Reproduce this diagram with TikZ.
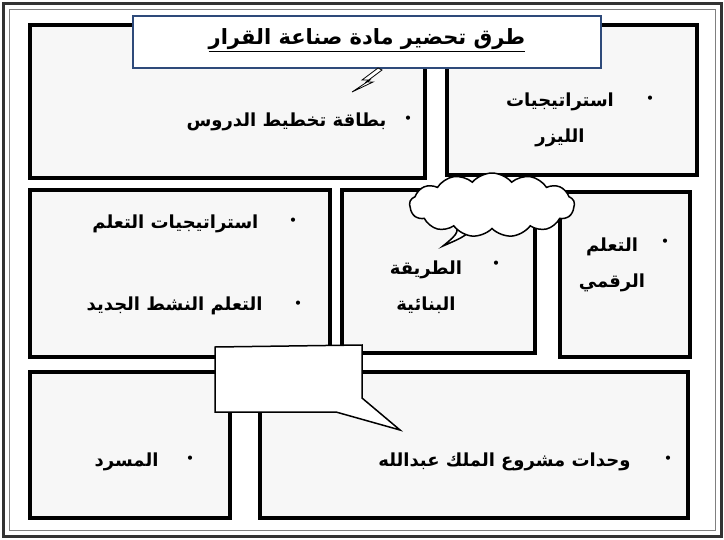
\documentclass[tikz,border=0pt]{standalone}
\usepackage{fontspec}
\setmainfont{DejaVu Sans}
\newfontfamily\arabicfont[Script=Arabic]{DejaVu Sans}
\TeXXeTstate=1
\usetikzlibrary{shapes.symbols}
\definecolor{titleblue}{HTML}{2E4A7A}
\tikzset{panel/.style = {draw,line width=4pt,fill=gray!6},
         bubble/.style = {draw,line width=1.5pt,fill=white},
         bul/.style = {font=\Large},
         ar/.style = {font=\arabicfont\bfseries\fontsize{18}{36}\selectfont,align=center}}
\newcommand{\AR}[1]{\beginR #1\endR}
\begin{document}
\begin{tikzpicture}[x=1pt,y=-1pt]
    \useasboundingbox (0,0) rectangle (724,539);
    % outer frame
    \draw[line width=3pt,black!80] (3,3) rectangle (721,536);
    \draw[line width=1pt,gray] (9,9) rectangle (715,530);

    % panels
    \draw[panel] (30,25)  rectangle (425,178);
    \draw[panel] (447,25) rectangle (697,175);
    \draw[panel] (30,190) rectangle (330,357);
    \draw[panel] (342,190) rectangle (535,353);
    \draw[panel] (560,192) rectangle (690,357);
    \draw[panel] (30,372) rectangle (230,518);
    \draw[panel] (260,372) rectangle (688,518);

    % title
    \node[draw=titleblue,line width=2pt,fill=white,minimum width=468pt,minimum height=52pt] (title) at (367,42) {};
    \node[ar,font=\arabicfont\bfseries\fontsize{21}{24}\selectfont] (titletext) at (367,40) {\underline{\AR{طرق تحضير مادة صناعة القرار}}};

    % lightning
    \draw[fill=white,line width=.8pt] (378,68) -- (362,80) -- (370,80) -- (352,92) -- (373,82) -- (366,82) -- (382,70) -- cycle;

    % cloud bubble
    \coordinate (cloudtip) at (443,246);
    \draw[bubble] (452,215) .. controls (460,232) .. (cloudtip) .. controls (466,236) .. (478,222);
    \node[cloud,bubble,cloud puffs=13,cloud puff arc=100,cloud ignores aspect,
          minimum width=165pt,minimum height=64pt] (cloud) at (492,205) {};

    % box bubble
    \coordinate (notetip) at (400,430);
    \draw[bubble] (215,347) -- (362,345) -- (362,398) -- (notetip) -- (336,412) -- (215,412) -- cycle;
    \node (note) at (289,380) {};

    % texts
    \node[bul] (b1) at (408,120) {•};
    \node[ar,anchor=east] (t1) at (390,122) {\AR{بطاقة تخطيط الدروس}};
    \node[bul] (b2) at (650,100) {•};
    \node[ar] (t2) at (560,120) {\AR{استراتيجيات}\\\AR{الليزر}};
    \node[bul] (b3) at (293,222) {•};
    \node[ar,anchor=east] (t3) at (262,224) {\AR{استراتيجيات التعلم}};
    \node[bul] (b4) at (298,305) {•};
    \node[ar,anchor=east] (t4) at (266,306) {\AR{التعلم النشط الجديد}};
    \node[bul] (b5) at (496,265) {•};
    \node[ar] (t5) at (426,287) {\AR{الطريقة}\\\AR{البنائية}};
    \node[bul] (b6) at (665,243) {•};
    \node[ar] (t6) at (612,265) {\AR{التعلم}\\\AR{الرقمي}};
    \node[bul] (b7) at (190,460) {•};
    \node[ar,anchor=east] (t7) at (162,462) {\AR{المسرد}};
    \node[bul] (b8) at (668,460) {•};
    \node[ar,anchor=east] (t8) at (634,462) {\AR{وحدات مشروع الملك عبدالله}};
\end{tikzpicture}
\end{document}
